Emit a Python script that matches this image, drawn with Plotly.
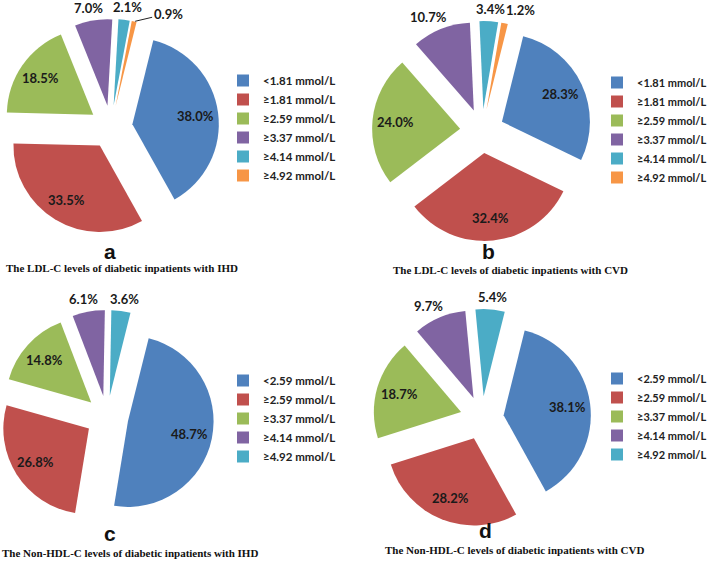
import math
import plotly.graph_objects as go

# ---- data ----
ldl_labels = ["<1.81 mmol/L", "≥1.81 mmol/L", "≥2.59 mmol/L", "≥3.37 mmol/L", "≥4.14 mmol/L", "≥4.92 mmol/L"]
ldl_ihd = [38.0, 33.5, 18.5, 7.0, 2.1, 0.9]
ldl_cvd = [28.3, 32.4, 24.0, 10.7, 3.4, 1.2]
nonhdl_labels = ["<2.59 mmol/L", "≥2.59 mmol/L", "≥3.37 mmol/L", "≥4.14 mmol/L", "≥4.92 mmol/L"]
nonhdl_ihd = [48.7, 26.8, 14.8, 6.1, 3.6]
nonhdl_cvd = [38.1, 28.2, 18.7, 9.7, 5.4]
panel_letters = ["a", "b", "c", "d"]
captions = [
    "The LDL-C levels of diabetic inpatients with IHD",
    "The LDL-C levels of diabetic inpatients with CVD",
    "The Non-HDL-C levels of diabetic inpatients with IHD",
    "The Non-HDL-C levels of diabetic inpatients with CVD",
]

# ---- style / layout ----
colors = ["#4F81BD", "#C0504D", "#9BBB59", "#8064A2", "#4BACC6", "#F79646"]
W, H = 709, 561
PULL = 0.25
ROT = 14
LABEL_FONT = dict(family="Lato", size=13, color="#1a1a1a", weight="bold")

def px_x(v):
    return v / W

def px_y(v):
    return 1 - v / H

panels = [
    # labels, values, domain x px, domain y px, legend, legend pos px, legend font size, tiny-label offset
    (ldl_labels, ldl_ihd, (3, 219), (19, 235), "legend", (223, 66), 11.5, (34, -8, True)),
    (ldl_labels, ldl_cvd, (372, 592), (21, 241), "legend2", (597, 68), 11, (16, -13, False)),
    (nonhdl_labels, nonhdl_ihd, (0, 214), (309, 525), "legend3", (223, 366), 11.5, None),
    (nonhdl_labels, nonhdl_cvd, (373, 591), (309, 527), "legend4", (597, 364), 11, None),
]

fig = go.Figure()
annotations = []
legends = {}

for k, (labels, values, dx, dy, leg, lpos, lsize, tiny) in enumerate(panels):
    # zero-width suffix keeps labels unique per panel so each legend shows all items
    uniq = [lab + "\u200b" * k for lab in labels]
    fig.add_trace(go.Pie(
        labels=uniq,
        values=values,
        sort=False,
        direction="clockwise",
        rotation=ROT,
        pull=PULL,
        marker=dict(colors=colors[:len(values)], line=dict(width=0)),
        textinfo="none",
        domain=dict(x=[px_x(dx[0]), px_x(dx[1])], y=[px_y(dy[1]), px_y(dy[0])]),
        legend=leg,
        hoverinfo="label+value",
    ))
    legends[leg] = dict(x=px_x(lpos[0]), y=px_y(lpos[1]), xanchor="left", yanchor="top",
                        font=dict(family="Lato", size=lsize, color="#222222", weight="bold"),
                        bgcolor="rgba(0,0,0,0)", traceorder="normal")

    # percentage labels placed with the same pie geometry plotly uses
    cx = (dx[0] + dx[1]) / 2
    cy = (dy[0] + dy[1]) / 2
    r = min(dx[1] - dx[0], dy[1] - dy[0]) / 2 / (1 + PULL)
    total = sum(values)
    cum = 0.0
    n = len(values)
    for i, v in enumerate(values):
        mid = math.radians(ROT + 360 * (cum + v / 2) / total)
        cum += v
        sx, sy = math.sin(mid), -math.cos(mid)
        txt = f"{v:.1f}%"
        if v >= 12:
            rr = (PULL + 0.74) * r
            annotations.append(dict(text=txt, x=px_x(cx + rr * sx), y=px_y(cy + rr * sy),
                                    xref="paper", yref="paper", showarrow=False,
                                    xanchor="center", yanchor="middle", font=LABEL_FONT))
        else:
            ox = cx + (1 + PULL) * r * sx
            oy = cy + (1 + PULL) * r * sy
            if i == n - 1 and tiny is not None:
                ax, ay, arrow = tiny
                if arrow:
                    annotations.append(dict(text=txt, x=px_x(ox), y=px_y(oy), xref="paper", yref="paper",
                                            showarrow=True, arrowhead=0, arrowwidth=1, arrowcolor="#222222",
                                            ax=ax, ay=ay, standoff=1, font=LABEL_FONT))
                else:
                    annotations.append(dict(text=txt, x=px_x(ox + ax), y=px_y(oy + ay), xref="paper", yref="paper",
                                            showarrow=False, xanchor="center", yanchor="middle", font=LABEL_FONT))
            else:
                w = 7.3 * len(txt)
                h = 15
                g = 5
                tx = ox + sx * (w / 2 + g) * 1.5
                ty = oy + sy * (h / 2 + g)
                annotations.append(dict(text=txt, x=px_x(tx), y=px_y(ty), xref="paper", yref="paper",
                                        showarrow=False, xanchor="center", yanchor="middle", font=LABEL_FONT))

letter_pos = [(110, 251), (488, 251), (110, 533), (485, 530)]
caption_pos = [(122, 268), (510, 270), (130, 553), (514, 550)]
for letter, (lx, ly) in zip(panel_letters, letter_pos):
    annotations.append(dict(text=letter, x=px_x(lx), y=px_y(ly), xref="paper", yref="paper",
                            showarrow=False, xanchor="center", yanchor="middle",
                            font=dict(family="Liberation Sans", size=21, color="#111111", weight="bold")))
for cap, (cx, cy) in zip(captions, caption_pos):
    annotations.append(dict(text=cap, x=px_x(cx), y=px_y(cy), xref="paper", yref="paper",
                            showarrow=False, xanchor="center", yanchor="middle",
                            font=dict(family="Liberation Serif", size=11, color="#111111", weight="bold")))

fig.update_layout(
    width=W, height=H,
    margin=dict(l=0, r=0, t=0, b=0, autoexpand=False),
    paper_bgcolor="white",
    plot_bgcolor="white",
    annotations=annotations,
    **legends,
)

fig.write_html("out.html", config={"displayModeBar": False},
               post_script="document.body.style.margin='0';document.body.style.padding='0';")
